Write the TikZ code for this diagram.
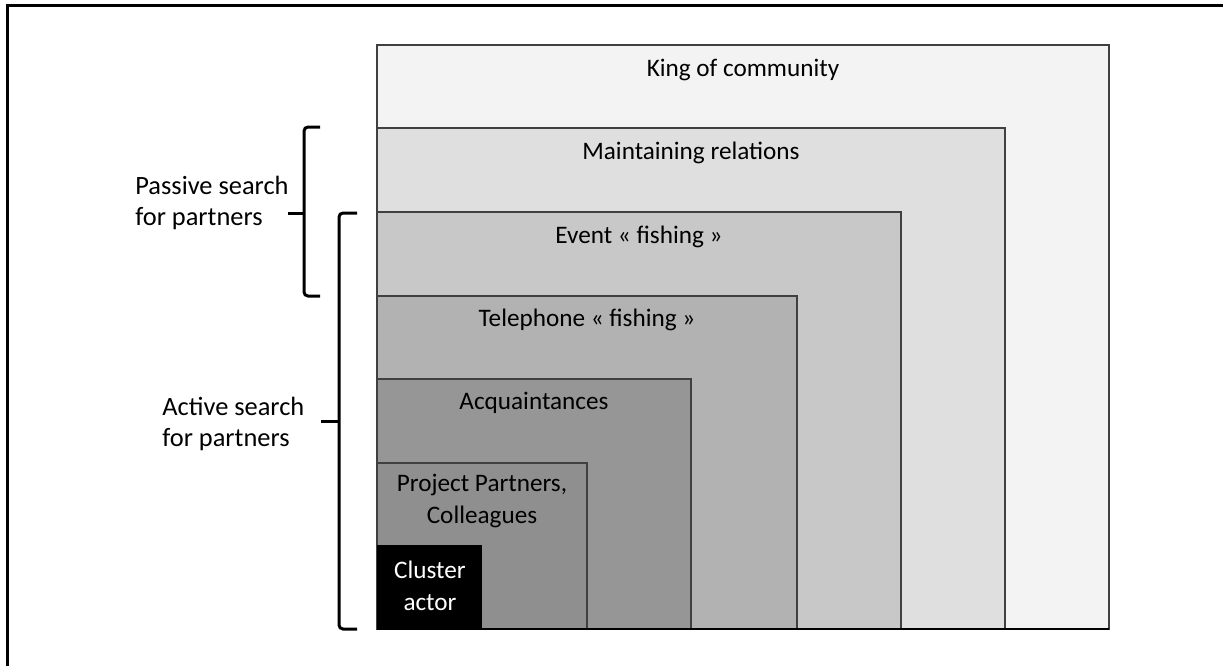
\documentclass[tikz,border=0pt]{standalone}
\usepackage{fontspec}
\setmainfont{Carlito}
\usetikzlibrary{positioning}

\definecolor{kinggray}{HTML}{F3F3F3}
\definecolor{maintgray}{HTML}{DFDFDF}
\definecolor{eventgray}{HTML}{C8C8C8}
\definecolor{telgray}{HTML}{B2B2B2}
\definecolor{acqgray}{HTML}{969696}
\definecolor{projgray}{HTML}{8F8F8F}

\begin{document}
\begin{tikzpicture}[x=0.5pt,y=-0.5pt,
    layer/.style={draw=black!75,line width=0.8pt},
    layertext/.style={font=\fontsize{12.6}{16}\selectfont,align=center,inner sep=0pt},
    sidetext/.style={font=\fontsize{13.2}{15.5}\selectfont,align=left,inner sep=0pt},
    bracket/.style={line width=1.5pt,rounded corners=2pt}]
  \useasboundingbox (0,0) rectangle (1223,666);
  % frame (only top and left show)
  \draw[line width=1.5pt] (7,666) -- (7,5) -- (1223,5);

  % nested layers
  \filldraw[layer,fill=kinggray] (377,45) rectangle (1109,629);
  \node[layertext] (king) at (743,70) {King of community};
  \filldraw[layer,fill=maintgray] (377,128) rectangle (1005,629);
  \node[layertext] (maint) at (691,153) {Maintaining relations};
  \filldraw[layer,fill=eventgray] (377,212) rectangle (901,629);
  \node[layertext] (event) at (639,237) {Event « fishing »};
  \filldraw[layer,fill=telgray] (377,296) rectangle (797,629);
  \node[layertext] (tel) at (587,320) {Telephone « fishing »};
  \filldraw[layer,fill=acqgray] (377,379) rectangle (691,629);
  \node[layertext] (acq) at (534,403) {Acquaintances};
  \filldraw[layer,fill=projgray] (377,463) rectangle (587,629);
  \node[layertext] (proj) at (482,501) {Project Partners,\\Colleagues};
  \fill[black] (377,545) rectangle (482,629);
  \node[layertext,text=white] (cluster) at (430,586) {Cluster\\actor};
  \draw[line width=1.2pt] (377,629) -- (1109,629);

  % brackets
  \coordinate (passtip) at (288,213);
  \coordinate (acttip) at (321,421);
  \draw[bracket] (320,127) -| (304,213) |- (320,296);
  \draw[bracket] (passtip) -- (304,213);
  \draw[bracket] (357,213) -| (339,421) |- (357,629);
  \draw[bracket] (acttip) -- (339,421);

  \node[sidetext,anchor=west] (passive) at (135,203) {Passive search\\for partners};
  \node[sidetext,anchor=west] (active) at (162,424) {Active search\\for partners};
\end{tikzpicture}
\end{document}
